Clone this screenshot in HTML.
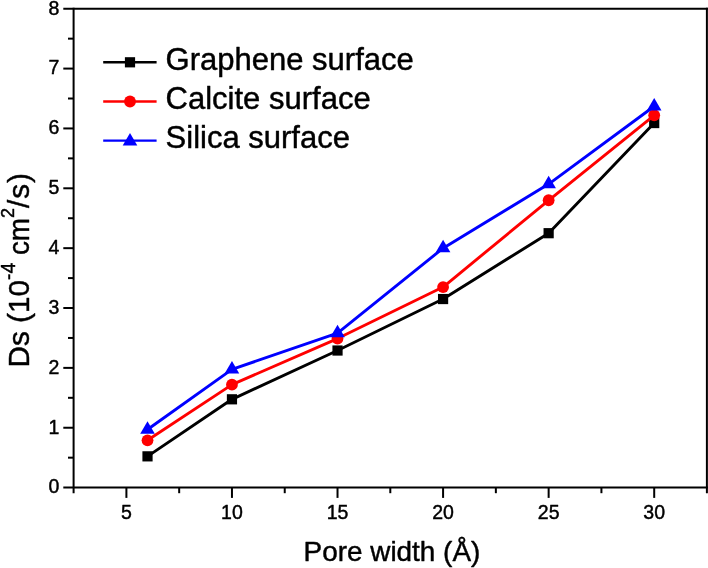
<!DOCTYPE html>
<html><head><meta charset="utf-8"><title>Ds vs Pore width</title>
<style>html,body{margin:0;padding:0;background:#fff}svg{display:block}text{font-family:"Liberation Sans",Arial,sans-serif;fill:#000;stroke:#000;stroke-width:0.45px;stroke-linejoin:round}</style></head><body>
<svg width="708" height="568" viewBox="0 0 708 568">
<rect width="708" height="568" fill="#fff"/>
<g stroke="#000" stroke-width="2.0" fill="none" stroke-linecap="butt">
<path d="M63.3 8.7H707.9"/>
<path d="M73.6 7.699999999999999V493.3"/>
<path d="M706.9 7.699999999999999V493.3"/>
<path d="M63.3 487.6H707.9"/>
<path d="M68.0 457.67H73.6"/>
<path d="M63.3 427.74H73.6"/>
<path d="M68.0 397.81H73.6"/>
<path d="M63.3 367.88H73.6"/>
<path d="M68.0 337.95H73.6"/>
<path d="M63.3 308.02H73.6"/>
<path d="M68.0 278.09H73.6"/>
<path d="M63.3 248.16H73.6"/>
<path d="M68.0 218.23H73.6"/>
<path d="M63.3 188.30H73.6"/>
<path d="M68.0 158.37H73.6"/>
<path d="M63.3 128.44H73.6"/>
<path d="M68.0 98.51H73.6"/>
<path d="M63.3 68.58H73.6"/>
<path d="M68.0 38.65H73.6"/>
<path d="M126.40 487.6V497.90000000000003"/>
<path d="M179.18 487.6V493.20000000000005"/>
<path d="M231.96 487.6V497.90000000000003"/>
<path d="M284.74 487.6V493.20000000000005"/>
<path d="M337.52 487.6V497.90000000000003"/>
<path d="M390.30 487.6V493.20000000000005"/>
<path d="M443.08 487.6V497.90000000000003"/>
<path d="M495.86 487.6V493.20000000000005"/>
<path d="M548.64 487.6V497.90000000000003"/>
<path d="M601.42 487.6V493.20000000000005"/>
<path d="M654.20 487.6V497.90000000000003"/>
</g>
<g font-size="19.5px">
<text x="59.3" y="493.40" text-anchor="end">0</text>
<text x="59.3" y="433.54" text-anchor="end">1</text>
<text x="59.3" y="373.68" text-anchor="end">2</text>
<text x="59.3" y="313.82" text-anchor="end">3</text>
<text x="59.3" y="253.96" text-anchor="end">4</text>
<text x="59.3" y="194.10" text-anchor="end">5</text>
<text x="59.3" y="134.24" text-anchor="end">6</text>
<text x="59.3" y="74.38" text-anchor="end">7</text>
<text x="59.3" y="14.52" text-anchor="end">8</text>
<text x="126.40" y="518.5" text-anchor="middle">5</text>
<text x="231.96" y="518.5" text-anchor="middle">10</text>
<text x="337.52" y="518.5" text-anchor="middle">15</text>
<text x="443.08" y="518.5" text-anchor="middle">20</text>
<text x="548.64" y="518.5" text-anchor="middle">25</text>
<text x="654.20" y="518.5" text-anchor="middle">30</text>
</g>
<polyline points="147.51,456.35 231.96,399.31 337.52,350.52 443.08,299.04 548.64,233.20 654.20,123.05" fill="none" stroke="#000" stroke-width="2.9" stroke-linejoin="round"/>
<rect x="142.41" y="451.25" width="10.2" height="10.2" fill="#000"/>
<rect x="226.86" y="394.21" width="10.2" height="10.2" fill="#000"/>
<rect x="332.42" y="345.42" width="10.2" height="10.2" fill="#000"/>
<rect x="437.98" y="293.94" width="10.2" height="10.2" fill="#000"/>
<rect x="543.54" y="228.10" width="10.2" height="10.2" fill="#000"/>
<rect x="649.10" y="117.95" width="10.2" height="10.2" fill="#000"/>
<polyline points="147.51,440.31 231.96,384.64 337.52,338.55 443.08,287.07 548.64,200.27 654.20,115.27" fill="none" stroke="#ff0000" stroke-width="2.9" stroke-linejoin="round"/>
<circle cx="147.51" cy="440.31" r="5.9" fill="#ff0000"/>
<circle cx="231.96" cy="384.64" r="5.9" fill="#ff0000"/>
<circle cx="337.52" cy="338.55" r="5.9" fill="#ff0000"/>
<circle cx="443.08" cy="287.07" r="5.9" fill="#ff0000"/>
<circle cx="548.64" cy="200.27" r="5.9" fill="#ff0000"/>
<circle cx="654.20" cy="115.27" r="5.9" fill="#ff0000"/>
<polyline points="147.51,429.54 231.96,369.38 337.52,333.16 443.08,248.16 548.64,184.11 654.20,106.29" fill="none" stroke="#0000ff" stroke-width="2.9" stroke-linejoin="round"/>
<path d="M147.51 421.20L154.81 433.70H140.21Z" fill="#0000ff"/>
<path d="M231.96 361.04L239.26 373.54H224.66Z" fill="#0000ff"/>
<path d="M337.52 324.83L344.82 337.33H330.22Z" fill="#0000ff"/>
<path d="M443.08 239.83L450.38 252.33H435.78Z" fill="#0000ff"/>
<path d="M548.64 175.78L555.94 188.28H541.34Z" fill="#0000ff"/>
<path d="M654.20 97.96L661.50 110.46H646.90Z" fill="#0000ff"/>
<path d="M103.2 62.3H156.6" stroke="#000" stroke-width="2.4"/><rect x="124.90" y="57.20" width="10.2" height="10.2" fill="#000"/>
<path d="M103.2 101.5H156.6" stroke="#ff0000" stroke-width="2.4"/><circle cx="130.00" cy="101.50" r="5.9" fill="#ff0000"/>
<path d="M103.2 140.6H156.6" stroke="#0000ff" stroke-width="2.4"/><path d="M130.00 133.07L137.30 145.57H122.70Z" fill="#0000ff"/>
<g font-size="31px">
<text x="165.6" y="70.1">Graphene surface</text>
<text x="165.6" y="109.2">Calcite surface</text>
<text x="165.6" y="148.2">Silica surface</text>
</g>
<text x="303.6" y="561.3" font-size="27.9px">Pore width (Å)</text>
<text transform="translate(29.3,367.5) rotate(-90)" font-size="29.7px">Ds (10<tspan font-size="19.5px" dy="-14">-4</tspan><tspan dy="14" dx="7.6" textLength="37.2" lengthAdjust="spacingAndGlyphs">cm</tspan><tspan font-size="18px" dy="-15">2</tspan><tspan dy="15" letter-spacing="0.9">/s)</tspan></text>
</svg></body></html>
